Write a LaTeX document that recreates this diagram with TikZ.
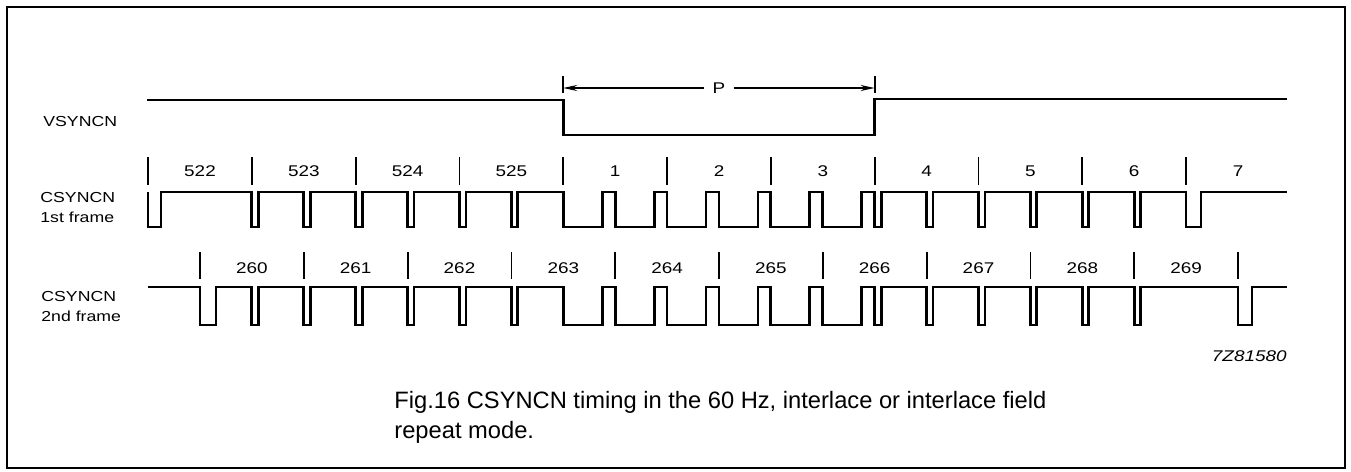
\documentclass[tikz,border=0pt]{standalone}
\usepackage{fontspec}
\setmainfont{Liberation Sans}
\newfontfamily\widesans[FakeStretch=1.22]{Liberation Sans}
\usetikzlibrary{arrows.meta,calc}
\tikzset{
  wave/.style={line width=2.8pt,line join=miter},
  linemark/.style={line width=1.8pt},
  dimline/.style={line width=1.4pt,-{Stealth[length=14pt,width=6pt]}},
  signame/.style={anchor=west,align=left,inner sep=0pt,font=\widesans\fontsize{14.5}{20}\selectfont},
  linenum/.style={inner sep=0pt,font=\widesans\fontsize{15.5}{18}\selectfont}
}

\begin{document}
\begin{tikzpicture}[x=1pt,y=-1pt,>=Stealth,thick]
  \useasboundingbox (0,0) rectangle (1351,471);
  \draw[line width=1.8pt] (7,7) rectangle (1345,468);

  % signal names
  \node[signame] (vs) at (43,122) {VSYNCN};
  \node[signame] (cs1) at (40,208) {CSYNCN\\1st frame};
  \node[signame] (cs2) at (41,307) {CSYNCN\\2nd frame};

  % vertical sync and the width P
  \draw[wave] (147,100) -- (563.2,100) -- (563.2,135) -- (874.6,135) -- (874.6,99) -- (1287,99);
  \draw[linemark] (563.2,76) -- (563.2,93);
  \draw[linemark] (874.6,76) -- (874.6,93);
  \coordinate (pl) at (563.2,88);
  \coordinate (pr) at (874.6,88);
  \node[linenum,inner xsep=8pt] (P) at ($(pl)!0.5!(pr)$) {P};
  \draw[dimline] (P) -- (pl);
  \draw[dimline] (P) -- (pr);

  % line markers and line numbers
  \foreach \k in {0,...,10} {
    \draw[linemark] ({148+\k*103.8},157) -- ++(0,28);
    \draw[linemark] ({200+\k*103.8},252) -- ++(0,27);
  }
  \foreach \n [count=\k from 0] in {522,523,524,525,1,2,3,4,5,6,7}
    \node[linenum] (na-\k) at ({200+\k*103.8},171) {\n};
  \foreach \n [count=\k from 0] in {260,...,269}
    \node[linenum] (nb-\k) at ({251.9+\k*103.8},268) {\n};

  % composite sync, both frames
  \foreach \hi/\lo/\sa/\sb/\ea/\eb in {192/227/148/161/1186/1201, 287/325/200/216/1238/1252} {
    \draw[wave] (148,\hi) -- (\sa,\hi) -- (\sa,\lo) -- (\sb,\lo) -- (\sb,\hi)
      \foreach \i in {2,...,7} { -- ({148+\i*51.9},\hi) -- ({148+\i*51.9},\lo) -- ({154.5+\i*51.9},\lo) -- ({154.5+\i*51.9},\hi) }
      \foreach \j in {0,...,5} { -- ({563.2+\j*51.9},\hi) -- ({563.2+\j*51.9},\lo) -- ({602.2+\j*51.9},\lo) -- ({602.2+\j*51.9},\hi) }
      \foreach \j in {0,...,5} { -- ({874.6+\j*51.9},\hi) -- ({874.6+\j*51.9},\lo) -- ({881.1+\j*51.9},\lo) -- ({881.1+\j*51.9},\hi) }
      -- (\ea,\hi) -- (\ea,\lo) -- (\eb,\lo) -- (\eb,\hi) -- (1287,\hi);
  }

  \node[inner sep=0pt,anchor=east,font=\widesans\itshape\fontsize{15.5}{18}\selectfont] (code) at (1287,356) {7Z81580};
  \node[inner sep=0pt,anchor=north west,align=left,font=\fontsize{23.7}{30}\selectfont] (caption) at (394,391)
    {Fig.16 CSYNCN timing in the 60 Hz, interlace or interlace field\\repeat mode.};
\end{tikzpicture}
\end{document}
